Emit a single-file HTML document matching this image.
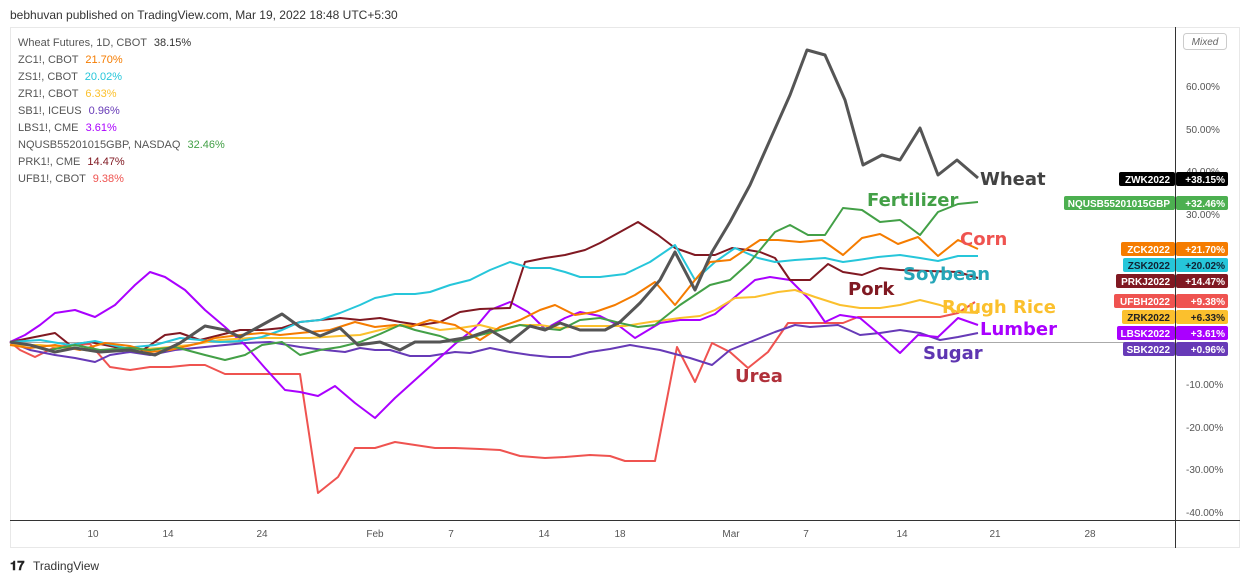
<!DOCTYPE html><html><head><meta charset="utf-8"><style>
body{margin:0;width:1245px;height:583px;background:#fff;font-family:"Liberation Sans",sans-serif;overflow:hidden}
</style></head><body>
<svg width="1245" height="583" xmlns="http://www.w3.org/2000/svg" font-family="Liberation Sans, sans-serif">
<text x="10" y="19" font-size="12" fill="#333">bebhuvan published on TradingView.com, Mar 19, 2022 18:48 UTC+5:30</text>
<rect x="10.5" y="27.5" width="1229" height="520" fill="#fff" stroke="#e8e8e8"/>
<line x1="1175.5" y1="27" x2="1175.5" y2="548" stroke="#333"/>
<line x1="10" y1="520.5" x2="1240" y2="520.5" stroke="#333"/>
<line x1="10" y1="342.5" x2="1175" y2="342.5" stroke="#aaa"/>
<rect x="1183.5" y="33.5" width="43" height="16" rx="3" fill="#fff" stroke="#ccc"/>
<text x="1205" y="45" font-size="10" fill="#666" text-anchor="middle" font-style="italic">Mixed</text>
<g font-size="10" fill="#555">
<text x="1186" y="90">60.00%</text><text x="1186" y="133">50.00%</text><text x="1186" y="175">40.00%</text><text x="1186" y="218">30.00%</text>
<text x="1186" y="388">-10.00%</text><text x="1186" y="431">-20.00%</text><text x="1186" y="473">-30.00%</text><text x="1186" y="516">-40.00%</text>
</g>
<g font-size="10" fill="#555" text-anchor="middle">
<text x="93" y="537">10</text><text x="168" y="537">14</text><text x="262" y="537">24</text><text x="375" y="537">Feb</text><text x="451" y="537">7</text><text x="544" y="537">14</text><text x="620" y="537">18</text><text x="731" y="537">Mar</text><text x="806" y="537">7</text><text x="902" y="537">14</text><text x="995" y="537">21</text><text x="1090" y="537">28</text>
</g>
<g font-size="11">
<text x="18" y="46" fill="#555">Wheat Futures, 1D, CBOT <tspan fill="#333" dx="4">38.15%</tspan></text>
<text x="18" y="63" fill="#555">ZC1!, CBOT <tspan fill="#f57c00" dx="4">21.70%</tspan></text>
<text x="18" y="80" fill="#555">ZS1!, CBOT <tspan fill="#26c6da" dx="4">20.02%</tspan></text>
<text x="18" y="97" fill="#555">ZR1!, CBOT <tspan fill="#fbc02d" dx="4">6.33%</tspan></text>
<text x="18" y="114" fill="#555">SB1!, ICEUS <tspan fill="#673ab7" dx="4">0.96%</tspan></text>
<text x="18" y="131" fill="#555">LBS1!, CME <tspan fill="#aa00ff" dx="4">3.61%</tspan></text>
<text x="18" y="148" fill="#555">NQUSB55201015GBP, NASDAQ <tspan fill="#43a047" dx="4">32.46%</tspan></text>
<text x="18" y="165" fill="#555">PRK1!, CME <tspan fill="#801922" dx="4">14.47%</tspan></text>
<text x="18" y="182" fill="#555">UFB1!, CBOT <tspan fill="#ef5350" dx="4">9.38%</tspan></text>
</g>
<g fill="none" stroke-width="2" stroke-linejoin="round">
<polyline stroke="#ef5350" points="10,342 20,350 35,357 55,347 75,345 90,344 110,367 130,370 150,367 170,367 190,365 205,365 225,374 250,374 300,374 318,493 338,477 355,448 375,448 395,442 415,445 435,448 455,448 480,449 500,450 520,456 545,458 565,457 590,455 610,456 625,461 655,461 677,347 695,382 712,343 730,352 748,368 768,352 788,323 808,323 828,323 843,323 858,317 880,317 940,317 958,313 975,302"/>
<polyline stroke="#673ab7" points="10,342 30,350 55,355 75,358 95,362 110,355 130,352 150,355 175,350 205,347 225,345 245,343 270,342 300,347 325,350 345,352 360,348 375,350 390,350 410,356 430,356 455,352 470,353 490,348 510,352 530,355 550,357 570,357 590,352 610,349 630,345 660,350 690,358 712,365 730,350 755,340 775,332 795,325 810,327 838,325 860,335 880,333 900,330 920,333 940,340 958,337 978,333"/>
<polyline stroke="#aa00ff" points="10,342 25,335 40,325 55,313 75,310 95,317 115,305 135,285 150,272 165,277 185,290 205,310 225,327 245,345 265,368 285,390 300,392 318,396 335,386 355,403 375,418 395,398 415,380 435,362 455,344 475,328 490,310 510,302 528,312 545,329 565,318 580,312 600,316 618,325 635,338 660,323 680,320 700,320 715,314 735,297 755,280 770,277 790,280 810,300 825,322 840,315 860,318 880,335 900,353 918,335 938,337 958,318 978,325"/>
<polyline stroke="#fbc02d" points="10,345 40,345 70,348 100,352 130,350 160,348 190,345 220,340 250,338 280,338 310,338 340,336 360,335 380,330 400,325 420,325 440,330 460,328 480,325 500,330 520,325 540,325 560,328 580,326 625,326 650,322 680,318 700,316 715,310 735,298 755,297 778,292 795,290 815,297 840,305 860,308 880,308 900,305 920,300 940,305 958,312 978,313"/>
<polyline stroke="#801922" points="10,342 30,338 55,333 70,345 90,342 110,346 140,352 165,335 180,333 200,340 220,335 240,330 262,330 282,328 300,322 320,320 340,318 360,320 380,318 400,322 420,325 440,322 460,312 480,309 510,308 525,262 545,258 565,255 585,250 600,243 620,232 638,222 658,235 675,248 695,255 715,255 732,248 748,250 760,252 775,258 790,280 810,280 828,264 843,272 862,275 880,268 900,270 958,272 978,278"/>
<polyline stroke="#26c6da" points="10,342 40,340 70,345 95,341 125,348 155,345 180,338 200,340 220,342 240,341 262,337 282,330 300,322 320,320 340,313 360,305 375,298 395,294 415,294 430,292 450,285 470,280 490,270 510,262 530,268 550,268 565,272 580,277 600,277 625,274 650,262 675,245 695,280 715,262 735,248 758,258 775,262 795,260 825,258 843,262 858,260 878,257 900,255 920,258 938,261 958,256 978,256"/>
<polyline stroke="#f57c00" points="10,345 30,348 55,345 80,350 105,343 130,346 150,352 170,350 200,343 215,338 240,335 262,333 280,335 300,333 330,330 355,322 375,327 395,325 410,327 430,320 455,325 480,340 500,327 520,320 540,310 555,305 575,315 595,312 615,305 635,295 655,282 675,305 695,280 710,262 730,260 760,240 778,240 800,242 822,240 843,255 862,238 880,234 898,244 918,237 938,256 958,240 978,249"/>
<polyline stroke="#43a047" points="10,342 30,345 50,350 75,345 100,350 130,348 150,350 175,347 205,355 225,360 245,355 262,345 282,342 300,355 320,350 340,347 360,342 380,334 400,325 415,330 440,336 455,342 480,335 500,330 520,325 540,328 560,330 580,320 600,318 620,323 638,327 655,325 680,305 710,285 730,280 750,262 775,232 790,225 808,235 825,235 843,208 862,210 880,222 900,220 920,235 938,212 958,204 978,202"/>
<polyline stroke="#555" stroke-width="3" points="10,342 30,345 55,352 75,348 100,352 130,350 155,355 180,343 205,326 225,330 240,337 262,325 282,314 300,327 320,336 340,328 358,345 380,342 400,350 415,342 440,342 470,337 490,330 510,342 530,326 545,330 560,323 580,330 605,330 620,322 640,303 660,280 675,252 695,290 712,252 730,222 750,185 770,140 790,95 807,50 825,55 845,100 863,165 882,155 900,160 920,128 938,175 957,160 978,178"/>
</g>
<g font-size="18" font-weight="bold" font-family="DejaVu Sans, sans-serif">
<text x="980" y="185" fill="#424242">Wheat</text>
<text x="867" y="206" fill="#43a047">Fertilizer</text>
<text x="960" y="245" fill="#ef5350">Corn</text>
<text x="903" y="280" fill="#26a6b8">Soybean</text>
<text x="848" y="295" fill="#801922">Pork</text>
<text x="942" y="313" fill="#fbc02d">Rough Rice</text>
<text x="980" y="335" fill="#aa00ff">Lumber</text>
<text x="923" y="359" fill="#5e35b1">Sugar</text>
<text x="735" y="382" fill="#b0303a">Urea</text>
</g>
<g font-size="10" font-weight="bold" text-anchor="end">
<rect x="1119" y="172" width="56" height="14" rx="2" fill="#000"/><rect x="1176" y="172" width="52" height="14" rx="2" fill="#000"/>
<text x="1170" y="183" fill="#fff">ZWK2022</text><text x="1225" y="183" fill="#fff">+38.15%</text>
<rect x="1064" y="196" width="111" height="14" rx="2" fill="#4caf50"/><rect x="1176" y="196" width="52" height="14" rx="2" fill="#4caf50"/>
<text x="1170" y="207" fill="#fff">NQUSB55201015GBP</text><text x="1225" y="207" fill="#fff">+32.46%</text>
<rect x="1121" y="242" width="54" height="14" rx="2" fill="#f57c00"/><rect x="1176" y="242" width="52" height="14" rx="2" fill="#f57c00"/>
<text x="1170" y="253" fill="#fff">ZCK2022</text><text x="1225" y="253" fill="#fff">+21.70%</text>
<rect x="1123" y="258" width="52" height="14" rx="2" fill="#26c6da"/><rect x="1176" y="258" width="52" height="14" rx="2" fill="#26c6da"/>
<text x="1170" y="269" fill="#123">ZSK2022</text><text x="1225" y="269" fill="#123">+20.02%</text>
<rect x="1116" y="274" width="59" height="14" rx="2" fill="#801922"/><rect x="1176" y="274" width="52" height="14" rx="2" fill="#801922"/>
<text x="1170" y="285" fill="#fff">PRKJ2022</text><text x="1225" y="285" fill="#fff">+14.47%</text>
<rect x="1114" y="294" width="61" height="14" rx="2" fill="#ef5350"/><rect x="1176" y="294" width="52" height="14" rx="2" fill="#ef5350"/>
<text x="1170" y="305" fill="#fff">UFBH2022</text><text x="1225" y="305" fill="#fff">+9.38%</text>
<rect x="1122" y="310" width="53" height="14" rx="2" fill="#fbc02d"/><rect x="1176" y="310" width="52" height="14" rx="2" fill="#fbc02d"/>
<text x="1170" y="321" fill="#222">ZRK2022</text><text x="1225" y="321" fill="#222">+6.33%</text>
<rect x="1117" y="326" width="58" height="14" rx="2" fill="#aa00ff"/><rect x="1176" y="326" width="52" height="14" rx="2" fill="#aa00ff"/>
<text x="1170" y="337" fill="#fff">LBSK2022</text><text x="1225" y="337" fill="#fff">+3.61%</text>
<rect x="1123" y="342" width="52" height="14" rx="2" fill="#673ab7"/><rect x="1176" y="342" width="52" height="14" rx="2" fill="#673ab7"/>
<text x="1170" y="353" fill="#fff">SBK2022</text><text x="1225" y="353" fill="#fff">+0.96%</text>
</g>
<text x="10" y="570" font-size="13" font-weight="bold" fill="#222">𝟏𝟕</text>
<text x="33" y="570" font-size="12" fill="#333">TradingView</text>
</svg>
</body></html>
